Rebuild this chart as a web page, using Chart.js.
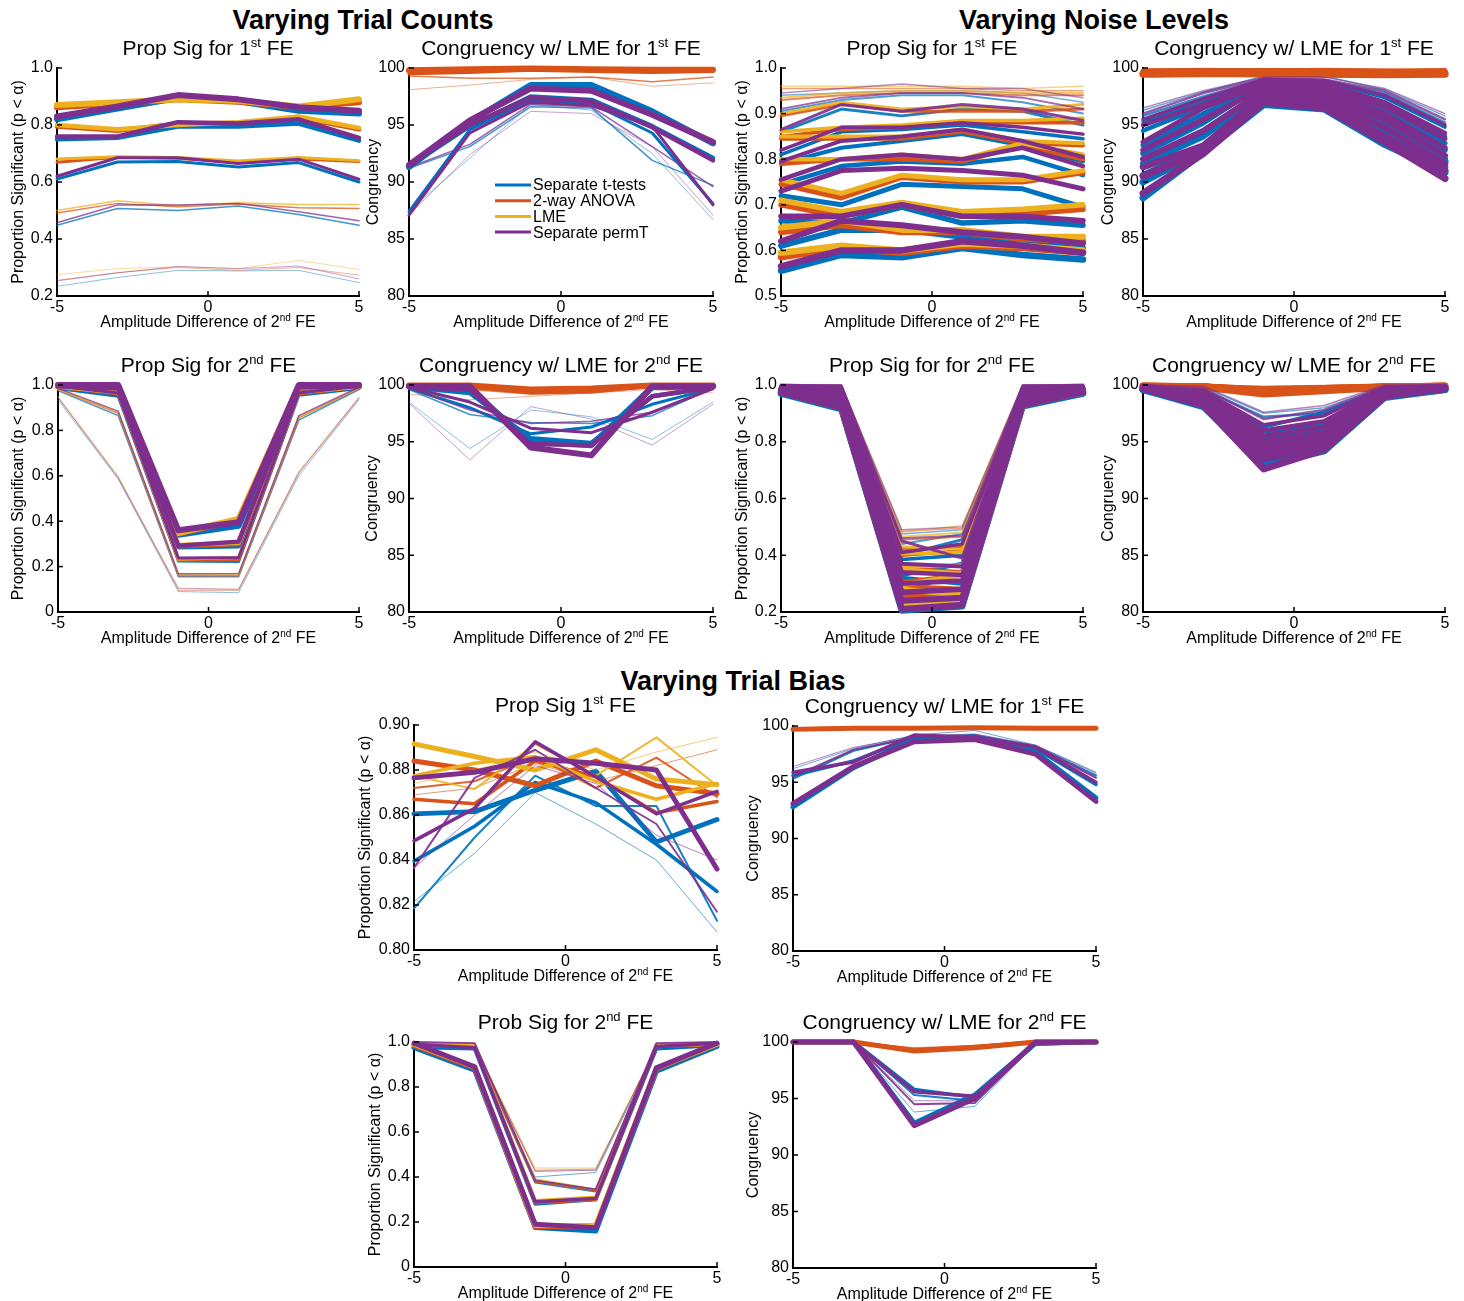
<!DOCTYPE html>
<html><head><meta charset="utf-8">
<script src="https://cdn.jsdelivr.net/npm/chart.js@4.4.1/dist/chart.umd.min.js"></script>
<style>
html,body{margin:0;padding:0;background:#fff;width:1464px;height:1301px;overflow:hidden;position:relative;font-family:"Liberation Sans",Arial,sans-serif;}
.sec{position:absolute;font-weight:bold;font-size:27px;line-height:27px;text-align:center;color:#000;white-space:nowrap;width:400px;}
canvas{position:absolute;}
</style></head><body>
<div class="sec" style="left:163px;top:7px;">Varying Trial Counts</div>
<div class="sec" style="left:894px;top:7px;">Varying Noise Levels</div>
<div class="sec" style="left:533px;top:668px;">Varying Trial Bias</div>
<script>
// ---------------- DATA ----------------
const xVals = [-5, -3, -1, 1, 3, 5];
const xTickLabels = ['-5', '0', '5'];
const methods = ['Separate t-tests', '2-way ANOVA', 'LME', 'Separate permT'];
const yTicksProp02 = ['0.2', '0.4', '0.6', '0.8', '1.0'];
const yTicksProp0 = ['0', '0.2', '0.4', '0.6', '0.8', '1.0'];
const yTicksProp05 = ['0.5', '0.6', '0.7', '0.8', '0.9', '1.0'];
const yTicksBias = ['0.80', '0.82', '0.84', '0.86', '0.88', '0.90'];
const yTicksCong = ['80', '85', '90', '95', '100'];

// Varying Trial Counts - Prop Sig 1st FE
const tcP1_ttest = [
 [0.234,0.265,0.290,0.288,0.290,0.247],
 [0.448,0.507,0.500,0.516,0.486,0.448],
 [0.610,0.670,0.672,0.653,0.668,0.600],
 [0.750,0.755,0.795,0.795,0.805,0.745],
 [0.820,0.858,0.895,0.883,0.850,0.840]];
const tcP1_anova = [
 [0.255,0.282,0.300,0.290,0.300,0.273],
 [0.491,0.525,0.513,0.523,0.510,0.507],
 [0.669,0.687,0.683,0.669,0.681,0.672],
 [0.795,0.780,0.805,0.808,0.825,0.785],
 [0.862,0.875,0.890,0.882,0.862,0.880]];
const tcP1_lme = [
 [0.275,0.296,0.302,0.296,0.325,0.293],
 [0.500,0.534,0.517,0.527,0.521,0.521],
 [0.681,0.689,0.686,0.674,0.686,0.675],
 [0.800,0.785,0.800,0.810,0.830,0.790],
 [0.870,0.880,0.890,0.885,0.865,0.890]];
const tcP1_permT = [
 [0.253,0.281,0.304,0.296,0.305,0.260],
 [0.457,0.519,0.519,0.525,0.496,0.464],
 [0.620,0.685,0.685,0.665,0.680,0.610],
 [0.760,0.760,0.810,0.805,0.820,0.755],
 [0.830,0.865,0.905,0.890,0.862,0.850]];

// Varying Trial Counts - Congruency 1st FE
const tcP2_ttest = [
 [87.5,92.1,96.8,96.3,92.5,86.7],
 [91.2,93.1,96.6,96.5,91.9,89.7],
 [87.4,94.6,97.2,96.9,94.3,88.1],
 [91.4,94.9,97.5,97.2,94.9,92.1],
 [91.3,95.3,98.5,98.5,96.2,93.4]];
const tcP2_anova = [
 [98.1,98.5,99.0,99.2,98.4,98.7],
 [99.3,99.1,99.1,99.2,98.8,99.2],
 [99.5,99.6,99.8,99.7,99.6,99.7],
 [99.7,99.8,99.9,99.85,99.8,99.8],
 [99.8,99.9,99.95,99.9,99.85,99.85]];
const tcP2_permT = [
 [87.1,92.4,96.2,96.0,93.1,87.1],
 [91.3,93.3,96.8,96.6,93.1,89.6],
 [87.1,94.3,97.0,96.7,94.9,88.0],
 [91.5,95.0,97.4,97.1,94.8,91.9],
 [91.5,95.4,98.2,98.0,95.9,93.5]];

// Varying Trial Counts - Prop Sig 2nd FE
const tcP5_ttest = [
 [0.935,0.585,0.090,0.085,0.600,0.935],
 [0.975,0.865,0.155,0.155,0.845,0.980],
 [0.985,0.950,0.225,0.222,0.955,0.985],
 [0.990,0.970,0.285,0.290,0.980,0.990],
 [0.995,0.985,0.340,0.380,0.985,0.995]];
const tcP5_anova = [
 [0.945,0.595,0.095,0.095,0.610,0.940],
 [0.980,0.875,0.160,0.160,0.855,0.985],
 [0.990,0.960,0.228,0.228,0.960,0.990],
 [0.990,0.975,0.290,0.300,0.985,0.990],
 [0.995,0.995,0.345,0.405,0.995,0.995]];
const tcP5_lme = [
 [0.950,0.600,0.100,0.100,0.620,0.945],
 [0.980,0.880,0.165,0.165,0.860,0.985],
 [0.990,0.965,0.232,0.240,0.965,0.990],
 [0.995,0.980,0.295,0.305,0.990,0.995],
 [1.000,0.995,0.348,0.410,0.995,1.000]];
const tcP5_permT = [
 [0.945,0.590,0.105,0.100,0.615,0.945],
 [0.985,0.885,0.168,0.170,0.865,0.990],
 [0.995,0.965,0.238,0.240,0.965,0.995],
 [0.995,0.985,0.292,0.310,0.990,0.995],
 [1.000,1.000,0.360,0.395,1.000,1.000]];

// Varying Trial Counts - Congruency 2nd FE
const tcP6_ttest = [
 [98.5,94.4,97.8,97.2,95.2,98.5],
 [99.6,97.4,96.7,96.6,97.3,99.7],
 [99.7,98.0,95.7,96.3,98.3,99.7],
 [99.8,99.3,95.3,94.9,99.0,99.8],
 [99.9,99.6,95.0,94.7,99.8,99.9]];
const tcP6_anova = [
 [99.2,98.7,99.0,99.3,99.6,99.3],
 [99.8,99.6,99.2,99.3,99.8,99.8],
 [99.9,99.8,99.3,99.4,99.9,99.9],
 [99.95,99.9,99.5,99.5,99.95,99.95],
 [99.95,99.95,99.6,99.7,99.95,99.95]];
const tcP6_permT = [
 [98.4,93.4,98.1,97.0,94.7,98.3],
 [99.7,97.8,96.6,96.8,97.6,99.6],
 [99.8,98.5,96.2,95.8,97.6,99.7],
 [99.8,99.6,94.8,94.7,99.0,99.8],
 [99.9,99.9,94.5,93.8,99.9,99.9]];

// Varying Noise Levels - Prop Sig 1st FE
const nlP3_ttest = [
 [0.940,0.945,0.950,0.950,0.945,0.925],
 [0.905,0.930,0.940,0.940,0.925,0.900],
 [0.860,0.910,0.895,0.910,0.905,0.875],
 [0.810,0.860,0.865,0.875,0.860,0.845],
 [0.790,0.825,0.840,0.855,0.830,0.795],
 [0.745,0.785,0.795,0.790,0.805,0.765],
 [0.720,0.700,0.745,0.740,0.735,0.695],
 [0.665,0.660,0.695,0.660,0.665,0.655],
 [0.610,0.645,0.645,0.630,0.615,0.605],
 [0.555,0.590,0.585,0.605,0.590,0.580]];
const nlP3_anova = [
 [0.955,0.955,0.955,0.955,0.950,0.950],
 [0.930,0.940,0.945,0.945,0.940,0.940],
 [0.895,0.920,0.905,0.905,0.905,0.910],
 [0.850,0.865,0.870,0.880,0.880,0.880],
 [0.845,0.845,0.845,0.860,0.835,0.830],
 [0.790,0.800,0.800,0.795,0.830,0.800],
 [0.745,0.715,0.760,0.750,0.750,0.770],
 [0.700,0.675,0.700,0.675,0.680,0.690],
 [0.640,0.655,0.640,0.640,0.625,0.620],
 [0.585,0.605,0.595,0.610,0.605,0.595]];
const nlP3_lme = [
 [0.960,0.960,0.960,0.960,0.955,0.960],
 [0.935,0.945,0.950,0.950,0.945,0.945],
 [0.900,0.925,0.910,0.915,0.910,0.920],
 [0.860,0.870,0.875,0.885,0.885,0.890],
 [0.850,0.850,0.850,0.865,0.840,0.835],
 [0.800,0.800,0.810,0.800,0.835,0.810],
 [0.755,0.725,0.765,0.755,0.755,0.775],
 [0.710,0.685,0.705,0.685,0.690,0.700],
 [0.650,0.665,0.645,0.645,0.630,0.630],
 [0.595,0.610,0.600,0.615,0.610,0.600]];
const nlP3_permT = [
 [0.945,0.955,0.965,0.955,0.955,0.935],
 [0.910,0.935,0.945,0.945,0.935,0.910],
 [0.865,0.920,0.905,0.920,0.910,0.885],
 [0.820,0.870,0.870,0.880,0.870,0.855],
 [0.795,0.840,0.850,0.865,0.840,0.805],
 [0.755,0.800,0.810,0.800,0.825,0.785],
 [0.730,0.775,0.780,0.775,0.765,0.735],
 [0.675,0.675,0.700,0.675,0.675,0.665],
 [0.620,0.665,0.655,0.640,0.630,0.615],
 [0.565,0.600,0.600,0.620,0.610,0.595]];

// Varying Noise Levels - Congruency 1st FE
const nlP4_ttest = [
 [96.3,97.9,99.3,99.3,98.1,95.8],
 [95.8,97.5,99.0,98.9,97.8,95.2],
 [95.3,97.0,98.9,98.8,97.4,94.8],
 [94.5,96.6,98.6,98.4,96.8,94.0],
 [93.2,96.0,98.4,98.1,96.2,93.4],
 [92.5,95.2,98.6,97.9,95.8,92.8],
 [91.6,94.0,97.8,97.4,95.2,92.0],
 [90.6,93.0,97.3,97.0,94.5,91.3],
 [90.0,92.8,98.5,97.5,94.2,91.8],
 [88.6,92.6,96.8,96.4,93.3,90.8]];
const nlP4_anova = [
 [99.9,99.95,99.9,99.95,99.9,99.9],
 [99.85,99.9,99.9,99.85,99.8,99.85],
 [99.8,99.85,99.8,99.85,99.8,99.75],
 [99.7,99.8,99.8,99.75,99.7,99.8],
 [99.7,99.7,99.75,99.7,99.65,99.7],
 [99.6,99.7,99.65,99.7,99.6,99.6],
 [99.55,99.6,99.65,99.6,99.55,99.6],
 [99.5,99.6,99.55,99.6,99.5,99.55],
 [99.5,99.55,99.5,99.5,99.45,99.5],
 [99.45,99.5,99.5,99.45,99.4,99.45]];
const nlP4_permT = [
 [96.5,98.0,99.2,99.2,98.2,96.0],
 [96.0,97.8,99.1,99.0,98.0,95.5],
 [95.5,97.3,99.0,98.9,97.6,95.0],
 [95.0,96.8,98.8,98.6,97.0,94.3],
 [93.5,96.5,98.6,98.3,96.6,93.8],
 [92.8,95.5,98.3,98.0,96.0,93.0],
 [92.0,94.5,98.0,97.6,95.5,92.3],
 [91.3,93.2,97.6,97.2,94.8,91.6],
 [90.5,92.7,97.3,96.8,94.0,91.0],
 [89.0,92.5,97.0,96.5,93.5,90.3]];

// Varying Noise Levels - Prop Sig 2nd FE
const nlP7_ttest = [
 [0.995,0.99,0.475,0.49,0.99,0.995],
 [0.99,0.985,0.44,0.475,0.985,0.99],
 [0.99,0.98,0.40,0.455,0.98,0.99],
 [0.985,0.975,0.385,0.40,0.975,0.985],
 [0.985,0.97,0.33,0.37,0.97,0.985],
 [0.98,0.96,0.32,0.30,0.96,0.98],
 [0.98,0.95,0.275,0.34,0.95,0.975],
 [0.975,0.94,0.26,0.27,0.94,0.975],
 [0.97,0.925,0.23,0.24,0.93,0.97],
 [0.97,0.915,0.205,0.22,0.925,0.97]];
const nlP7_anova = [
 [1.0,0.995,0.485,0.495,0.995,1.0],
 [0.995,0.99,0.455,0.465,0.99,0.995],
 [0.995,0.985,0.42,0.43,0.985,0.995],
 [0.99,0.98,0.40,0.415,0.98,0.99],
 [0.99,0.975,0.355,0.34,0.975,0.99],
 [0.985,0.965,0.305,0.33,0.97,0.985],
 [0.985,0.955,0.29,0.28,0.96,0.985],
 [0.98,0.945,0.255,0.275,0.95,0.98],
 [0.975,0.93,0.225,0.235,0.935,0.975],
 [0.975,0.92,0.215,0.23,0.93,0.975]];
const nlP7_lme = [
 [1.0,1.0,0.48,0.505,1.0,1.0],
 [1.0,0.995,0.465,0.48,0.995,1.0],
 [0.995,0.99,0.43,0.42,0.99,0.995],
 [0.995,0.985,0.405,0.41,0.985,0.995],
 [0.99,0.98,0.36,0.365,0.98,0.99],
 [0.99,0.97,0.35,0.335,0.97,0.99],
 [0.985,0.96,0.295,0.33,0.965,0.985],
 [0.985,0.95,0.28,0.26,0.955,0.985],
 [0.98,0.935,0.235,0.245,0.94,0.98],
 [0.98,0.925,0.22,0.23,0.935,0.98]];
const nlP7_permT = [
 [1.0,1.0,0.49,0.50,1.0,1.0],
 [1.0,1.0,0.46,0.47,1.0,1.0],
 [1.0,0.995,0.45,0.39,0.995,1.0],
 [0.995,0.99,0.41,0.44,0.99,0.995],
 [0.995,0.985,0.37,0.36,0.985,0.995],
 [0.99,0.975,0.34,0.33,0.975,0.99],
 [0.99,0.965,0.30,0.31,0.965,0.99],
 [0.985,0.95,0.27,0.28,0.955,0.985],
 [0.98,0.935,0.24,0.25,0.94,0.98],
 [0.975,0.92,0.21,0.225,0.93,0.975]];

// Varying Noise Levels - Congruency 2nd FE
const nlP8_ttest = [
 [99.9,99.8,97.5,98.0,99.9,99.9],
 [99.9,99.6,97.2,97.5,99.8,99.9],
 [99.9,99.4,96.3,97.6,99.7,99.9],
 [99.8,99.2,95.9,96.5,99.6,99.8],
 [99.8,99.0,95.2,96.0,99.5,99.8],
 [99.8,98.8,94.8,95.5,99.4,99.8],
 [99.7,98.6,94.2,95.2,99.3,99.7],
 [99.7,98.4,93.8,94.9,99.2,99.7],
 [99.6,98.3,93.4,94.4,99.0,99.6],
 [99.6,98.1,92.9,94.2,98.9,99.6]];
const nlP8_anova = [
 [100,100,99.9,99.95,100,100],
 [100,100,99.8,99.9,100,100],
 [100,99.95,99.7,99.85,99.95,100],
 [100,99.95,99.65,99.8,99.95,100],
 [99.95,99.9,99.6,99.75,99.9,99.95],
 [99.95,99.9,99.55,99.7,99.9,99.95],
 [99.95,99.9,99.5,99.65,99.85,99.95],
 [99.9,99.85,99.45,99.6,99.85,99.9],
 [99.9,99.85,99.35,99.55,99.8,99.9],
 [99.9,99.8,99.2,99.5,99.8,99.9]];
const nlP8_permT = [
 [100,99.9,97.6,98.2,100,100],
 [100,99.7,97.0,97.8,99.9,100],
 [99.9,99.5,96.5,97.3,99.8,99.9],
 [99.9,99.3,96.0,96.8,99.7,99.9],
 [99.9,99.1,95.5,96.3,99.6,99.9],
 [99.8,98.9,95.0,95.8,99.5,99.8],
 [99.8,98.7,94.5,95.3,99.4,99.8],
 [99.8,98.5,94.0,95.0,99.3,99.8],
 [99.7,98.3,93.5,94.6,99.1,99.7],
 [99.7,98.2,92.6,94.3,99.0,99.7]];

// Varying Trial Bias - Prop Sig 1st FE
const tbP9_ttest = [
 [0.8215,0.843,0.870,0.856,0.840,0.808],
 [0.8185,0.850,0.8775,0.864,0.864,0.813],
 [0.8395,0.855,0.8745,0.8655,0.847,0.826],
 [0.8605,0.8615,0.871,0.8795,0.848,0.858]];
const tbP9_anova = [
 [0.869,0.872,0.883,0.875,0.882,0.889],
 [0.872,0.875,0.886,0.872,0.8855,0.868],
 [0.867,0.865,0.884,0.877,0.861,0.866],
 [0.884,0.880,0.873,0.884,0.873,0.8695]];
const tbP9_lme = [
 [0.874,0.880,0.888,0.880,0.888,0.8945],
 [0.8775,0.8715,0.8915,0.8775,0.8945,0.873],
 [0.8775,0.883,0.886,0.875,0.867,0.874],
 [0.8916,0.886,0.880,0.889,0.876,0.8735]];
const tbP9_permT = [
 [0.8365,0.860,0.882,0.874,0.851,0.840],
 [0.8365,0.8765,0.889,0.872,0.856,0.817],
 [0.8485,0.863,0.8925,0.877,0.8605,0.8705],
 [0.8765,0.879,0.885,0.883,0.880,0.836]];

// Varying Trial Bias - Congruency 1st FE
const tbP10_ttest = [
 [96.2,98.0,99.2,99.6,98.3,95.9],
 [95.3,97.8,99.0,99.2,98.2,95.6],
 [95.6,96.9,99.0,99.1,98.0,94.8],
 [92.8,96.3,98.8,98.9,97.7,93.6]];
const tbP10_anova = [
 [99.85,99.9,99.9,99.95,99.9,99.9],
 [99.8,99.85,99.9,99.9,99.85,99.85],
 [99.75,99.8,99.85,99.85,99.8,99.8],
 [99.7,99.8,99.8,99.85,99.8,99.8]];
const tbP10_permT = [
 [96.4,98.1,99.1,99.3,98.3,95.8],
 [95.5,97.9,99.0,99.1,98.2,95.4],
 [95.9,96.8,99.2,99.0,98.1,95.0],
 [93.1,96.4,98.6,98.8,97.5,93.3]];

// Varying Trial Bias - Prob Sig 2nd FE
const tbP11_ttest = [
 [0.975,0.97,0.40,0.42,0.965,0.98],
 [0.98,0.98,0.375,0.335,0.98,0.99],
 [0.975,0.97,0.28,0.30,0.97,0.985],
 [0.975,0.875,0.175,0.16,0.87,0.98]];
const tbP11_anova = [
 [0.985,0.98,0.43,0.435,0.975,0.985],
 [0.99,0.985,0.38,0.34,0.99,0.99],
 [0.985,0.98,0.285,0.30,0.98,0.99],
 [0.985,0.885,0.18,0.18,0.88,0.99]];
const tbP11_lme = [
 [0.99,0.985,0.44,0.44,0.98,0.99],
 [0.99,0.99,0.39,0.345,0.99,0.995],
 [0.99,0.985,0.295,0.31,0.985,0.99],
 [0.99,0.89,0.185,0.185,0.885,0.99]];
const tbP11_permT = [
 [0.985,0.98,0.425,0.43,0.975,0.99],
 [1.0,0.995,0.385,0.345,0.995,1.0],
 [0.99,0.975,0.29,0.305,0.98,0.995],
 [0.995,0.89,0.19,0.175,0.885,0.995]];

// Varying Trial Bias - Congruency 2nd FE
const tbP12_ttest = [
 [100,100,93.8,94.3,99.8,100],
 [100,100,95.3,94.8,99.8,100],
 [100,100,95.8,95.1,99.8,100],
 [100,100,92.8,95.3,99.9,100]];
const tbP12_anova = [
 [100,100,99.5,99.7,100,100],
 [100,100,99.4,99.6,100,100],
 [100,100,99.3,99.6,100,100],
 [100,100,99.2,99.5,100,100]];
const tbP12_permT = [
 [100,100,94.8,94.8,99.8,100],
 [100,100,94.5,94.6,99.9,100],
 [100,100,95.6,95.2,99.9,100],
 [100,100,92.6,95.0,100,100]];

// ---------------- STYLE ----------------
const FONT = "'Liberation Sans', Arial, Helvetica, sans-serif";
const RGB = {ttest:'0,114,189', anova:'217,83,25', lme:'237,177,32', permT:'126,47,142'};
const methodKeys = ['ttest','anova','lme','permT'];
const tcWidths = [1, 1.5, 3, 4.5, 6];
const tcAlpha = [0.45, 0.75, 1, 1, 1];
const nlWidths = [1.5, 2, 3, 3.5, 4, 4.5, 5, 5.5, 6, 6.5];
const nlAlpha = [0.55, 0.7, 0.9, 1, 1, 1, 1, 1, 1, 1];
const nlCongWidths = [1.5, 2.5, 3.5, 4.5, 5, 5.5, 6, 6.5, 7, 7];
const nlCongAlpha = [0.6, 0.8, 1, 1, 1, 1, 1, 1, 1, 1];
const tbWidths = [1, 2, 3.5, 5];
const tbAlpha = [0.6, 0.9, 1, 1];

const sup = (a, s, b) => [[a, 0], [s, 1], [b, 0]];
const xTitleSegs = sup('Amplitude Difference of 2', 'nd', ' FE');
const YPROP = 'Proportion Significant (p < \u03b1)';
const YCONG = 'Congruency';

function drawRich(ctx, segs, cx, baseline, size) {
  const subSize = Math.round(size * 0.62);
  let total = 0;
  const widths = segs.map(([t, s]) => {
    ctx.font = (s ? subSize : size) + 'px ' + FONT;
    const w = ctx.measureText(t).width; total += w; return w;
  });
  let x = cx - total / 2;
  ctx.textAlign = 'left'; ctx.textBaseline = 'alphabetic';
  segs.forEach(([t, s], i) => {
    ctx.font = (s ? subSize : size) + 'px ' + FONT;
    ctx.fillText(t, x, s ? baseline - size * 0.4 : baseline);
    x += widths[i];
  });
}

const panelText = {
  id: 'panelText',
  afterDraw(chart, args, opts) {
    const ctx = chart.ctx, a = chart.chartArea;
    const cx = (a.left + a.right) / 2;
    ctx.save();
    // small inward tick marks (MATLAB style)
    ctx.strokeStyle = '#000'; ctx.lineWidth = 1.5;
    chart.scales.x.ticks.forEach(t => {
      const px = chart.scales.x.getPixelForValue(t.value);
      ctx.beginPath(); ctx.moveTo(px, a.bottom); ctx.lineTo(px, a.bottom - 5); ctx.stroke();
    });
    chart.scales.y.ticks.forEach(t => {
      const py = chart.scales.y.getPixelForValue(t.value);
      ctx.beginPath(); ctx.moveTo(a.left, py); ctx.lineTo(a.left + 5, py); ctx.stroke();
    });
    ctx.fillStyle = '#000';
    drawRich(ctx, opts.title, cx, a.top - 13, 21);
    drawRich(ctx, xTitleSegs, cx, a.bottom + 31, 16);
    if (opts.legend) {
      const L = opts.legend;
      methods.forEach((m, i) => {
        const y = a.top + L.dy + i * 15.7;
        ctx.strokeStyle = 'rgb(' + RGB[methodKeys[i]] + ')';
        ctx.lineWidth = 3;
        ctx.beginPath(); ctx.moveTo(a.left + L.dx, y); ctx.lineTo(a.left + L.dx + 36, y); ctx.stroke();
        ctx.fillStyle = '#000';
        ctx.font = '16px ' + FONT; ctx.textAlign = 'left'; ctx.textBaseline = 'middle';
        ctx.fillText(m, a.left + L.dx + 38, y + 1);
      });
    }
    ctx.restore();
  }
};

function buildDatasets(series, widths, alphas) {
  const list = [];
  series.forEach(([rows, key]) => {
    rows.forEach((row, g) => {
      list.push({
        label: methods[methodKeys.indexOf(key)],
        data: row.map((v, i) => ({x: xVals[i], y: v})),
        borderColor: 'rgba(' + RGB[key] + ',' + alphas[g] + ')',
        borderWidth: widths[g],
        pointRadius: 0, fill: false, tension: 0,
        borderJoinStyle: 'round', borderCapStyle: 'round', clip: false
      });
    });
  });
  list.forEach((d, i) => { d.order = -i; });
  return list;
}

const panels = [
  {box:[57,68,359,296], gap:39, title:sup('Prop Sig for 1','st',' FE'), yTitle:YPROP, yTicks:yTicksProp02,
   series:[[tcP1_ttest,'ttest'],[tcP1_anova,'anova'],[tcP1_lme,'lme'],[tcP1_permT,'permT']], w:tcWidths, a:tcAlpha},
  {box:[409,68,713,296], gap:36, title:sup('Congruency w/ LME for 1','st',' FE'), yTitle:YCONG, yTicks:yTicksCong,
   series:[[tcP2_ttest,'ttest'],[tcP2_anova,'anova'],[tcP2_permT,'permT']], w:tcWidths, a:tcAlpha, legend:{dx:86, dy:117}},
  {box:[781,68,1083,296], gap:39, title:sup('Prop Sig for 1','st',' FE'), yTitle:YPROP, yTicks:yTicksProp05,
   series:[[nlP3_ttest,'ttest'],[nlP3_anova,'anova'],[nlP3_lme,'lme'],[nlP3_permT,'permT']], w:nlWidths, a:nlAlpha},
  {box:[1143,68,1445,296], gap:35, title:sup('Congruency w/ LME for 1','st',' FE'), yTitle:YCONG, yTicks:yTicksCong,
   series:[[nlP4_ttest,'ttest'],[nlP4_anova,'anova'],[nlP4_permT,'permT']], w:nlCongWidths, a:nlCongAlpha},
  {box:[58,385,359,612], gap:40, title:sup('Prop Sig for 2','nd',' FE'), yTitle:YPROP, yTicks:yTicksProp0,
   series:[[tcP5_ttest,'ttest'],[tcP5_anova,'anova'],[tcP5_lme,'lme'],[tcP5_permT,'permT']], w:tcWidths, a:tcAlpha},
  {box:[409,385,713,612], gap:37, title:sup('Congruency w/ LME for 2','nd',' FE'), yTitle:YCONG, yTicks:yTicksCong,
   series:[[tcP6_ttest,'ttest'],[tcP6_anova,'anova'],[tcP6_permT,'permT']], w:tcWidths, a:tcAlpha},
  {box:[781,385,1083,612], gap:39, title:sup('Prop Sig for for 2','nd',' FE'), yTitle:YPROP, yTicks:yTicksProp02,
   series:[[nlP7_ttest,'ttest'],[nlP7_anova,'anova'],[nlP7_lme,'lme'],[nlP7_permT,'permT']], w:nlWidths, a:nlAlpha},
  {box:[1143,385,1445,612], gap:35, title:sup('Congruency w/ LME for 2','nd',' FE'), yTitle:YCONG, yTicks:yTicksCong,
   series:[[nlP8_ttest,'ttest'],[nlP8_anova,'anova'],[nlP8_permT,'permT']], w:nlCongWidths, a:nlCongAlpha},
  {box:[414,725,717,950], gap:49, title:sup('Prop Sig 1','st',' FE'), yTitle:YPROP, yTicks:yTicksBias,
   series:[[tbP9_ttest,'ttest'],[tbP9_anova,'anova'],[tbP9_lme,'lme'],[tbP9_permT,'permT']], w:tbWidths, a:tbAlpha},
  {box:[793,726,1096,951], gap:40, title:sup('Congruency w/ LME for 1','st',' FE'), yTitle:YCONG, yTicks:yTicksCong,
   series:[[tbP10_ttest,'ttest'],[tbP10_anova,'anova'],[tbP10_permT,'permT']], w:tbWidths, a:tbAlpha},
  {box:[414,1042,717,1267], gap:39, title:sup('Prob Sig for 2','nd',' FE'), yTitle:YPROP, yTicks:yTicksProp0,
   series:[[tbP11_ttest,'ttest'],[tbP11_anova,'anova'],[tbP11_lme,'lme'],[tbP11_permT,'permT']], w:tbWidths, a:tbAlpha},
  {box:[793,1042,1096,1268], gap:40, title:sup('Congruency w/ LME for 2','nd',' FE'), yTitle:YCONG, yTicks:yTicksCong,
   series:[[tbP12_ttest,'ttest'],[tbP12_anova,'anova'],[tbP12_permT,'permT']], w:tbWidths, a:tbAlpha}
];

const xTickVals = xTickLabels.map(parseFloat);
panels.forEach((p) => {
  const [L, T, R, B] = p.box;
  const dW = p.gap + 13, padR = 16, padT = 46, xH = 46;
  const cw = (R - L) + dW + padR, ch = (B - T) + padT + xH;
  const cv = document.createElement('canvas');
  cv.width = cw; cv.height = ch;
  cv.style.left = (L - dW) + 'px'; cv.style.top = (T - padT) + 'px';
  cv.style.width = cw + 'px'; cv.style.height = ch + 'px';
  document.body.appendChild(cv);
  const yVals = p.yTicks.map(parseFloat);
  const labelFor = (vals, labels) => (v) => {
    const i = vals.findIndex(t => Math.abs(t - v) < 1e-9);
    return i >= 0 ? labels[i] : '';
  };
  new Chart(cv, {
    type: 'line',
    data: {datasets: buildDatasets(p.series, p.w, p.a)},
    options: {
      responsive: false, animation: false, events: [], devicePixelRatio: 1,
      layout: {padding: {top: padT, right: padR, left: 0, bottom: 0}},
      plugins: {legend: {display: false}, tooltip: {enabled: false}, title: {display: false},
                panelText: {title: p.title, legend: p.legend || null}},
      scales: {
        x: {
          type: 'linear', min: -5, max: 5,
          afterFit: (s) => { s.height = xH; },
          afterBuildTicks: (s) => { s.ticks = xTickVals.map(v => ({value: v})); },
          ticks: {callback: labelFor(xTickVals, xTickLabels), color: '#000', font: {size: 16, family: FONT},
                  padding: 2, maxRotation: 0, autoSkip: false},
          grid: {display: false, drawTicks: false},
          border: {display: true, color: '#000', width: 2}
        },
        y: {
          type: 'linear', min: yVals[0], max: yVals[yVals.length - 1],
          afterFit: (s) => { s.width = dW; },
          afterBuildTicks: (s) => { s.ticks = yVals.map(v => ({value: v})); },
          ticks: {callback: labelFor(yVals, p.yTicks), color: '#000', font: {size: 16, family: FONT},
                  padding: 4, autoSkip: false},
          title: {display: true, text: p.yTitle, color: '#000', font: {size: 16, family: FONT}, padding: {top: 4, bottom: 4}},
          grid: {display: false, drawTicks: false},
          border: {display: true, color: '#000', width: 2}
        }
      }
    },
    plugins: [panelText]
  });
});
</script>
</body></html>
